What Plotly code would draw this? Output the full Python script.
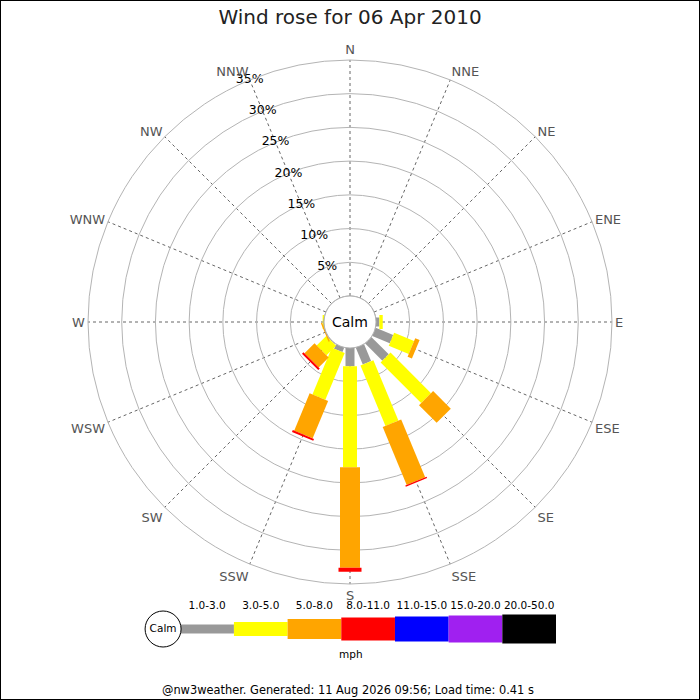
import plotly.graph_objects as go
import numpy as np

directions = ['N', 'NNE', 'NE', 'ENE', 'E', 'ESE', 'SE', 'SSE',
              'S', 'SSW', 'SW', 'WSW', 'W', 'WNW', 'NW', 'NNW']

speed_classes = ['1.0-3.0', '3.0-5.0', '5.0-8.0', '8.0-11.0',
                 '11.0-15.0', '15.0-20.0', '20.0-50.0']
class_colors = ['#999999', '#ffff00', '#ffa500', '#ff0000',
                '#0000ff', '#a020f0', '#000000']
class_widths = [9, 14, 20, 23, 25, 27, 29]

# % of time per direction for each speed class (N .. NNW)
pct_1_3 = [0, 0, 0, 0, 0.5, 2.8, 3.6, 2.7, 2.7, 0.7, 0.1, 0, 0, 0, 0, 0]
pct_3_5 = [0, 0, 0, 0, 0.5, 3.2, 8.5, 9.7, 15.0, 7.5, 2.0, 0, 0.2, 0, 0, 0]
pct_5_8 = [0, 0, 0, 0, 0, 0.7, 3.7, 9.3, 14.9, 6.0, 2.1, 0.2, 0, 0, 0, 0]
pct_8_11 = [0, 0, 0, 0, 0, 0, 0, 0.2, 0.6, 0.3, 0.3, 0, 0, 0, 0, 0]
pct_11_15 = [0] * 16
pct_15_20 = [0] * 16
pct_20_50 = [0] * 16

ring_ticks = [5, 10, 15, 20, 25, 30, 35]
ring_labels = ['5%', '10%', '15%', '20%', '25%', '30%', '35%']

title_text = 'Wind rose for 06 Apr 2010'
footer_text = '@nw3weather. Generated: 11 Aug 2026 09:56; Load time: 0.41 s'

FONT = 'DejaVu Sans'

angles = [i * 22.5 for i in range(len(directions))]
series = np.array([pct_1_3, pct_3_5, pct_5_8, pct_8_11,
                   pct_11_15, pct_15_20, pct_20_50])
cum = np.cumsum(series, axis=0)

fig = go.Figure()

# rose bars: each speed class is a thick straight segment along its direction
for k in range(len(speed_classes)):
    r, th = [], []
    for i, ang in enumerate(angles):
        if series[k, i] <= 0:
            continue
        start = cum[k - 1, i] if k > 0 else 0
        r += [start, cum[k, i], None]
        th += [ang, ang, None]
    if not r:
        continue
    fig.add_trace(go.Scatterpolar(
        r=r, theta=th, mode='lines',
        line=dict(color=class_colors[k], width=class_widths[k]),
        hoverinfo='skip', showlegend=False,
    ))

# calm circle outline at the hole edge
circ = np.linspace(0, 360, 121)
fig.add_trace(go.Scatterpolar(
    r=[0] * len(circ), theta=circ, mode='lines',
    line=dict(color='#999999', width=1),
    hoverinfo='skip', showlegend=False,
))

# ring labels along the NNW spoke
fig.add_trace(go.Scatterpolar(
    r=ring_ticks, theta=[angles[directions.index('NNW')]] * len(ring_ticks),
    mode='text', text=ring_labels,
    textfont=dict(family=FONT, size=12.5, color='black'),
    hoverinfo='skip', showlegend=False,
))

# legend bar underneath
fig.add_trace(go.Bar(
    x=list(range(len(speed_classes))), y=class_widths,
    base=[-w / 2 for w in class_widths], width=1.0,
    marker=dict(color=class_colors, line=dict(width=0)),
    hoverinfo='skip', showlegend=False,
))
fig.add_trace(go.Scatter(
    x=list(range(len(speed_classes))), y=[23] * len(speed_classes),
    mode='text', text=speed_classes,
    textfont=dict(family=FONT, size=10.5, color='black'),
    hoverinfo='skip', showlegend=False,
))
fig.add_trace(go.Scatter(
    x=[-0.82], y=[0], mode='markers+text', text=['Calm'],
    textposition='middle center',
    marker=dict(size=36, color='white', line=dict(color='black', width=1)),
    textfont=dict(family=FONT, size=10.5, color='black'),
    hoverinfo='skip', showlegend=False,
))

fig.update_layout(
    width=700, height=700,
    margin=dict(l=0, r=0, t=0, b=0),
    paper_bgcolor='white', plot_bgcolor='white',
    font=dict(family=FONT),
    title=dict(text=title_text, x=0.5, xanchor='center', y=1 - 17 / 700,
               yanchor='middle', font=dict(family=FONT, size=20, color='#222')),
    polar=dict(
        domain=dict(x=[88 / 700, 612 / 700], y=[116 / 700, 640 / 700]),
        hole=26 / 262,
        bgcolor='white',
        radialaxis=dict(range=[0, 35], tickvals=ring_ticks, showticklabels=False,
                        ticks='', showline=False, gridcolor='#b4b4b4', gridwidth=1),
        angularaxis=dict(direction='clockwise', rotation=90, thetaunit='degrees',
                         tickvals=angles, ticktext=directions, ticks='',
                         showline=True, linecolor='#b4b4b4', linewidth=1,
                         gridcolor='#666', griddash='dot', gridwidth=1,
                         tickfont=dict(family=FONT, size=13, color='#555')),
    ),
    xaxis=dict(domain=[140 / 700, 556 / 700], range=[-1.25, 6.5], visible=False,
               fixedrange=True),
    yaxis=dict(domain=[40 / 700, 110 / 700], range=[-31, 39], visible=False,
               fixedrange=True),
    annotations=[
        dict(text='Calm', x=0.5, y=378 / 700, xref='paper', yref='paper',
             xanchor='center', yanchor='middle', showarrow=False,
             font=dict(family=FONT, size=14, color='black')),
        dict(text='mph', x=351 / 700, y=46 / 700, xref='paper', yref='paper',
             xanchor='center', yanchor='middle', showarrow=False,
             font=dict(family=FONT, size=10.5, color='black')),
        dict(text=footer_text, x=348 / 700, y=10 / 700, xref='paper', yref='paper',
             xanchor='center', yanchor='middle', showarrow=False,
             font=dict(family=FONT, size=11.4, color='black')),
    ],
    shapes=[dict(type='rect', xref='paper', yref='paper', x0=0, y0=0, x1=1, y1=1,
                 line=dict(color='black', width=2))],
)

fig.write_html('out.html', config={'displayModeBar': False},
               post_script="document.body.style.margin = '0';")
